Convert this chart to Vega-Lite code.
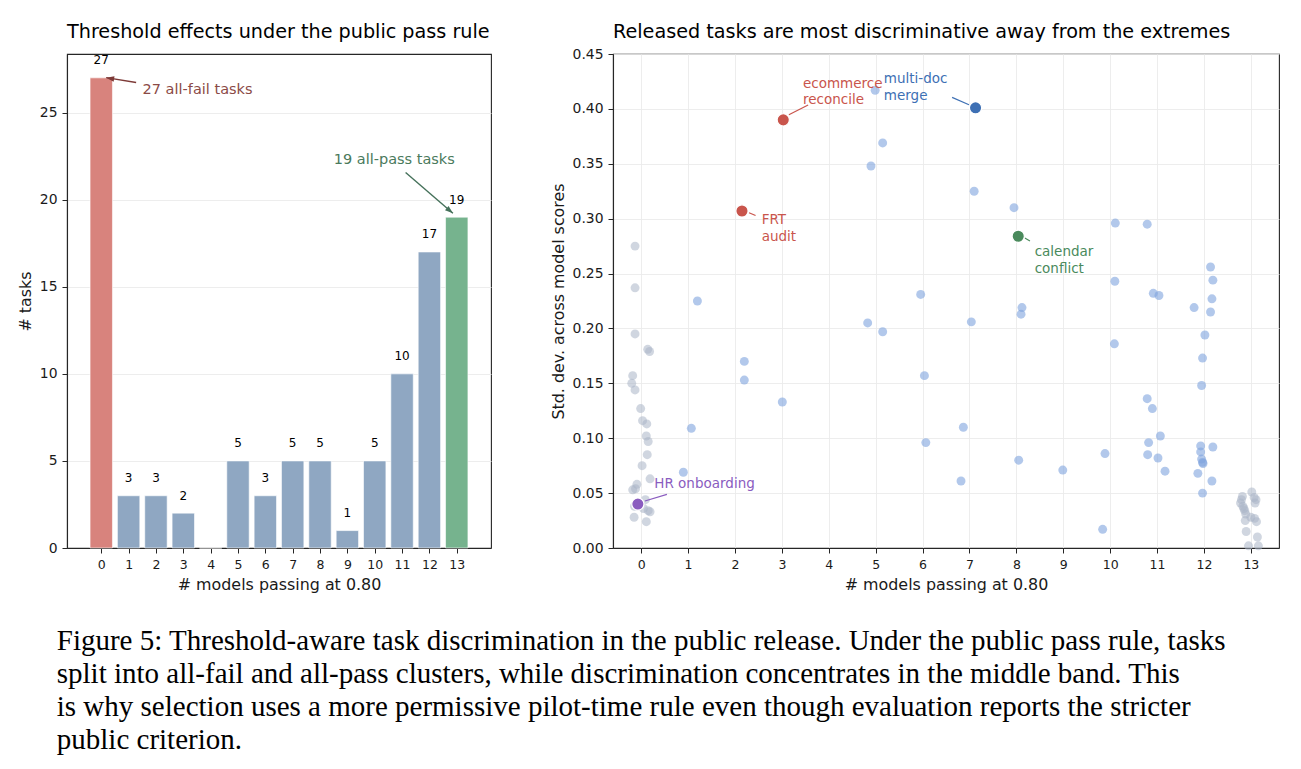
{
  "$schema": "https://vega.github.io/schema/vega-lite/v6.json",
  "background": "white",
  "padding": {"left": 16, "top": 22, "right": 5, "bottom": 5},
  "config": {
    "font": "DejaVu Sans",
    "view": {"stroke": "#262626", "strokeWidth": 1.1},
    "axis": {
      "domainColor": "#262626",
      "domainWidth": 1.1,
      "tickColor": "#262626",
      "tickSize": 5,
      "tickWidth": 1,
      "labelColor": "#1a1a1a",
      "titleColor": "#1a1a1a",
      "labelFont": "DejaVu Sans",
      "titleFont": "DejaVu Sans",
      "titleFontWeight": "normal",
      "titleFontSize": 15.9,
      "labelPadding": 5,
      "titlePadding": 6,
      "labelOverlap": false,
      "gridColor": "#ebebeb",
      "gridWidth": 0.9
    }
  },
  "resolve": {"scale": {"color": "independent"}},
  "datasets": {
    "bars": [
      {"passing": 0, "tasks": 27, "group": "all-fail"},
      {"passing": 1, "tasks": 3, "group": "discriminative"},
      {"passing": 2, "tasks": 3, "group": "discriminative"},
      {"passing": 3, "tasks": 2, "group": "discriminative"},
      {"passing": 4, "tasks": 0, "group": "discriminative"},
      {"passing": 5, "tasks": 5, "group": "discriminative"},
      {"passing": 6, "tasks": 3, "group": "discriminative"},
      {"passing": 7, "tasks": 5, "group": "discriminative"},
      {"passing": 8, "tasks": 5, "group": "discriminative"},
      {"passing": 9, "tasks": 1, "group": "discriminative"},
      {"passing": 10, "tasks": 5, "group": "discriminative"},
      {"passing": 11, "tasks": 10, "group": "discriminative"},
      {"passing": 12, "tasks": 17, "group": "discriminative"},
      {"passing": 13, "tasks": 19, "group": "all-pass"}
    ],
    "callouts": [
      {"kind": "fail", "label": "27 all-fail tasks", "x_from": 1.275, "y_from": 26.73, "x_to": 0.18, "y_to": 27.01, "x_text": 1.51, "y_text": 26.29},
      {"kind": "pass", "label": "19 all-pass tasks", "x_from": 11.13, "y_from": 21.56, "x_to": 12.86, "y_to": 19.22, "x_text": 8.5, "y_text": 22.29}
    ],
    "tasks": [
      {"passing": -0.13, "sd": 0.275, "group": "all-fail"},
      {"passing": -0.13, "sd": 0.237, "group": "all-fail"},
      {"passing": -0.13, "sd": 0.195, "group": "all-fail"},
      {"passing": 0.14, "sd": 0.181, "group": "all-fail"},
      {"passing": 0.18, "sd": 0.179, "group": "all-fail"},
      {"passing": -0.18, "sd": 0.157, "group": "all-fail"},
      {"passing": -0.2, "sd": 0.15, "group": "all-fail"},
      {"passing": -0.13, "sd": 0.144, "group": "all-fail"},
      {"passing": -0.01, "sd": 0.127, "group": "all-fail"},
      {"passing": 0.03, "sd": 0.116, "group": "all-fail"},
      {"passing": 0.12, "sd": 0.113, "group": "all-fail"},
      {"passing": 0.11, "sd": 0.102, "group": "all-fail"},
      {"passing": 0.15, "sd": 0.097, "group": "all-fail"},
      {"passing": 0.13, "sd": 0.085, "group": "all-fail"},
      {"passing": 0.02, "sd": 0.075, "group": "all-fail"},
      {"passing": 0.19, "sd": 0.063, "group": "all-fail"},
      {"passing": -0.09, "sd": 0.058, "group": "all-fail"},
      {"passing": -0.12, "sd": 0.054, "group": "all-fail"},
      {"passing": -0.18, "sd": 0.053, "group": "all-fail"},
      {"passing": 0.09, "sd": 0.044, "group": "all-fail"},
      {"passing": -0.14, "sd": 0.038, "group": "all-fail"},
      {"passing": 0.05, "sd": 0.036, "group": "all-fail"},
      {"passing": 0.15, "sd": 0.034, "group": "all-fail"},
      {"passing": 0.19, "sd": 0.033, "group": "all-fail"},
      {"passing": -0.15, "sd": 0.028, "group": "all-fail"},
      {"passing": 0.11, "sd": 0.024, "group": "all-fail"},
      {"passing": 1.2, "sd": 0.225, "group": "discriminative"},
      {"passing": 1.07, "sd": 0.109, "group": "discriminative"},
      {"passing": 0.9, "sd": 0.069, "group": "discriminative"},
      {"passing": 2.2, "sd": 0.17, "group": "discriminative"},
      {"passing": 2.2, "sd": 0.153, "group": "discriminative"},
      {"passing": 3.01, "sd": 0.133, "group": "discriminative"},
      {"passing": 4.99, "sd": 0.417, "group": "discriminative"},
      {"passing": 5.15, "sd": 0.369, "group": "discriminative"},
      {"passing": 4.9, "sd": 0.348, "group": "discriminative"},
      {"passing": 4.83, "sd": 0.205, "group": "discriminative"},
      {"passing": 5.15, "sd": 0.197, "group": "discriminative"},
      {"passing": 5.96, "sd": 0.231, "group": "discriminative"},
      {"passing": 6.04, "sd": 0.157, "group": "discriminative"},
      {"passing": 6.07, "sd": 0.096, "group": "discriminative"},
      {"passing": 7.1, "sd": 0.325, "group": "discriminative"},
      {"passing": 7.04, "sd": 0.206, "group": "discriminative"},
      {"passing": 6.87, "sd": 0.11, "group": "discriminative"},
      {"passing": 6.82, "sd": 0.061, "group": "discriminative"},
      {"passing": 7.95, "sd": 0.31, "group": "discriminative"},
      {"passing": 8.12, "sd": 0.219, "group": "discriminative"},
      {"passing": 8.1, "sd": 0.213, "group": "discriminative"},
      {"passing": 8.05, "sd": 0.08, "group": "discriminative"},
      {"passing": 8.99, "sd": 0.071, "group": "discriminative"},
      {"passing": 10.11, "sd": 0.296, "group": "discriminative"},
      {"passing": 10.1, "sd": 0.243, "group": "discriminative"},
      {"passing": 10.09, "sd": 0.186, "group": "discriminative"},
      {"passing": 9.89, "sd": 0.086, "group": "discriminative"},
      {"passing": 9.84, "sd": 0.017, "group": "discriminative"},
      {"passing": 10.79, "sd": 0.295, "group": "discriminative"},
      {"passing": 10.92, "sd": 0.232, "group": "discriminative"},
      {"passing": 11.04, "sd": 0.23, "group": "discriminative"},
      {"passing": 10.79, "sd": 0.136, "group": "discriminative"},
      {"passing": 10.9, "sd": 0.127, "group": "discriminative"},
      {"passing": 11.07, "sd": 0.102, "group": "discriminative"},
      {"passing": 10.82, "sd": 0.096, "group": "discriminative"},
      {"passing": 10.8, "sd": 0.085, "group": "discriminative"},
      {"passing": 11.02, "sd": 0.082, "group": "discriminative"},
      {"passing": 11.17, "sd": 0.07, "group": "discriminative"},
      {"passing": 12.14, "sd": 0.256, "group": "discriminative"},
      {"passing": 12.19, "sd": 0.244, "group": "discriminative"},
      {"passing": 12.17, "sd": 0.227, "group": "discriminative"},
      {"passing": 11.79, "sd": 0.219, "group": "discriminative"},
      {"passing": 12.14, "sd": 0.215, "group": "discriminative"},
      {"passing": 12.02, "sd": 0.194, "group": "discriminative"},
      {"passing": 11.97, "sd": 0.173, "group": "discriminative"},
      {"passing": 11.95, "sd": 0.148, "group": "discriminative"},
      {"passing": 11.93, "sd": 0.093, "group": "discriminative"},
      {"passing": 12.19, "sd": 0.092, "group": "discriminative"},
      {"passing": 11.93, "sd": 0.0875, "group": "discriminative"},
      {"passing": 11.95, "sd": 0.081, "group": "discriminative"},
      {"passing": 11.97, "sd": 0.078, "group": "discriminative"},
      {"passing": 11.98, "sd": 0.077, "group": "discriminative"},
      {"passing": 11.87, "sd": 0.068, "group": "discriminative"},
      {"passing": 12.17, "sd": 0.061, "group": "discriminative"},
      {"passing": 11.97, "sd": 0.05, "group": "discriminative"},
      {"passing": 13.02, "sd": 0.051, "group": "all-pass"},
      {"passing": 12.82, "sd": 0.047, "group": "all-pass"},
      {"passing": 13.07, "sd": 0.046, "group": "all-pass"},
      {"passing": 12.8, "sd": 0.044, "group": "all-pass"},
      {"passing": 13.11, "sd": 0.044, "group": "all-pass"},
      {"passing": 12.78, "sd": 0.041, "group": "all-pass"},
      {"passing": 13.09, "sd": 0.041, "group": "all-pass"},
      {"passing": 12.83, "sd": 0.038, "group": "all-pass"},
      {"passing": 12.85, "sd": 0.036, "group": "all-pass"},
      {"passing": 12.87, "sd": 0.034, "group": "all-pass"},
      {"passing": 12.89, "sd": 0.031, "group": "all-pass"},
      {"passing": 13.0, "sd": 0.028, "group": "all-pass"},
      {"passing": 13.08, "sd": 0.027, "group": "all-pass"},
      {"passing": 12.88, "sd": 0.025, "group": "all-pass"},
      {"passing": 13.12, "sd": 0.024, "group": "all-pass"},
      {"passing": 12.9, "sd": 0.015, "group": "all-pass"},
      {"passing": 13.14, "sd": 0.01, "group": "all-pass"},
      {"passing": 12.95, "sd": 0.002, "group": "all-pass"},
      {"passing": 13.16, "sd": 0.002, "group": "all-pass"}
    ],
    "highlights": [
      {"name": "ecommerce reconcile", "label": "ecommerce\nreconcile", "passing": 3.03, "sd": 0.39, "lx0": 3.15, "ly0": 0.3947, "lx1": 3.56, "ly1": 0.4035, "tx": 3.45, "ty": 0.4227},
      {"name": "multi-doc merge", "label": "multi-doc\nmerge", "passing": 7.13, "sd": 0.401, "lx0": 6.99, "ly0": 0.4038, "lx1": 6.63, "ly1": 0.4105, "tx": 5.175, "ty": 0.4272},
      {"name": "FRT audit", "label": "FRT\naudit", "passing": 2.15, "sd": 0.307, "lx0": 2.3, "ly0": 0.3054, "lx1": 2.44, "ly1": 0.3029, "tx": 2.57, "ty": 0.2985},
      {"name": "calendar conflict", "label": "calendar\nconflict", "passing": 8.04, "sd": 0.284, "lx0": 8.18, "ly0": 0.2823, "lx1": 8.29, "ly1": 0.2796, "tx": 8.39, "ty": 0.2696},
      {"name": "HR onboarding", "label": "HR onboarding", "passing": -0.07, "sd": 0.04, "lx0": 0.08, "ly0": 0.0428, "lx1": 0.55, "ly1": 0.0489, "tx": 0.28, "ty": 0.0586}
    ]
  },
  "title": {
    "text": [
      "Figure 5: Threshold-aware task discrimination in the public release. Under the public pass rule, tasks",
      "split into all-fail and all-pass clusters, while discrimination concentrates in the middle band. This",
      "is why selection uses a more permissive pilot-time rule even though evaluation reports the stricter",
      "public criterion."
    ],
    "orient": "bottom",
    "anchor": "start",
    "font": "Liberation Serif",
    "fontSize": 29,
    "fontWeight": "normal",
    "lineHeight": 33,
    "color": "#000000",
    "offset": 34,
    "dx": 40
  },
  "spacing": 57,
  "hconcat": [
    {
      "width": 424,
      "height": 494,
      "title": {"text": "Threshold effects under the public pass rule", "anchor": "start", "frame": "group", "fontSize": 19.2, "fontWeight": "normal", "font": "DejaVu Sans", "color": "#000000", "offset": 12},
      "layer": [
        {
          "data": {"name": "bars"},
          "mark": {"type": "bar", "width": 22.4, "stroke": "white", "strokeWidth": 0.6},
          "encoding": {
            "x": {"field": "passing", "type": "quantitative", "scale": {"domain": [-1.07, 14.07], "nice": false, "zero": false},
                  "axis": {"values": [0, 1, 2, 3, 4, 5, 6, 7, 8, 9, 10, 11, 12, 13], "format": "d", "labelOverlap": false, "title": "# models passing at 0.80", "grid": false, "labelFontSize": 12.5}},
            "y": {"field": "tasks", "type": "quantitative", "scale": {"domain": [0, 28.37], "nice": false},
                  "axis": {"values": [0, 5, 10, 15, 20, 25], "title": "# tasks", "grid": true, "labelFontSize": 13.9}},
            "color": {"field": "group", "type": "nominal", "legend": null,
                      "scale": {"domain": ["all-fail", "discriminative", "all-pass"], "range": ["#d8837d", "#8fa7c2", "#76b38e"]}}
          }
        },
        {
          "data": {"name": "bars"},
          "transform": [{"filter": "datum.tasks > 0"}],
          "mark": {"type": "text", "fontSize": 12, "color": "#000000", "baseline": "middle", "dy": -17.5},
          "encoding": {
            "x": {"field": "passing", "type": "quantitative",
                  "axis": {"values": [0, 1, 2, 3, 4, 5, 6, 7, 8, 9, 10, 11, 12, 13], "format": "d", "labelOverlap": false, "title": "# models passing at 0.80", "grid": false, "labelFontSize": 12.5}},
            "y": {"field": "tasks", "type": "quantitative",
                  "axis": {"values": [0, 5, 10, 15, 20, 25], "title": "# tasks", "grid": true, "labelFontSize": 13.9}},
            "text": {"field": "tasks", "type": "quantitative"}
          }
        },
        {
          "data": {"name": "callouts"},
          "transform": [{"filter": "datum.kind === 'fail'"}],
          "mark": {"type": "rule", "color": "#7d3a37", "strokeWidth": 1.4},
          "encoding": {
            "x": {"field": "x_from", "type": "quantitative",
                  "axis": {"values": [0, 1, 2, 3, 4, 5, 6, 7, 8, 9, 10, 11, 12, 13], "format": "d", "labelOverlap": false, "title": "# models passing at 0.80", "grid": false, "labelFontSize": 12.5}},
            "y": {"field": "y_from", "type": "quantitative",
                  "axis": {"values": [0, 5, 10, 15, 20, 25], "title": "# tasks", "grid": true, "labelFontSize": 13.9}},
            "x2": {"field": "x_to"},
            "y2": {"field": "y_to"}
          }
        },
        {
          "data": {"name": "callouts"},
          "transform": [{"filter": "datum.kind === 'fail'"}],
          "mark": {"type": "point", "shape": "M0,0L-0.35,1L0.35,1Z", "filled": true, "opacity": 1, "size": 256, "angle": 279.3, "color": "#7d3a37"},
          "encoding": {
            "x": {"field": "x_to", "type": "quantitative",
                  "axis": {"values": [0, 1, 2, 3, 4, 5, 6, 7, 8, 9, 10, 11, 12, 13], "format": "d", "labelOverlap": false, "title": "# models passing at 0.80", "grid": false, "labelFontSize": 12.5}},
            "y": {"field": "y_to", "type": "quantitative",
                  "axis": {"values": [0, 5, 10, 15, 20, 25], "title": "# tasks", "grid": true, "labelFontSize": 13.9}}
          }
        },
        {
          "data": {"name": "callouts"},
          "transform": [{"filter": "datum.kind === 'fail'"}],
          "mark": {"type": "text", "align": "left", "baseline": "middle", "fontSize": 14.5, "color": "#8b4a46"},
          "encoding": {
            "x": {"field": "x_text", "type": "quantitative",
                  "axis": {"values": [0, 1, 2, 3, 4, 5, 6, 7, 8, 9, 10, 11, 12, 13], "format": "d", "labelOverlap": false, "title": "# models passing at 0.80", "grid": false, "labelFontSize": 12.5}},
            "y": {"field": "y_text", "type": "quantitative",
                  "axis": {"values": [0, 5, 10, 15, 20, 25], "title": "# tasks", "grid": true, "labelFontSize": 13.9}},
            "text": {"field": "label"}
          }
        },
        {
          "data": {"name": "callouts"},
          "transform": [{"filter": "datum.kind === 'pass'"}],
          "mark": {"type": "rule", "color": "#45715a", "strokeWidth": 1.4},
          "encoding": {
            "x": {"field": "x_from", "type": "quantitative",
                  "axis": {"values": [0, 1, 2, 3, 4, 5, 6, 7, 8, 9, 10, 11, 12, 13], "format": "d", "labelOverlap": false, "title": "# models passing at 0.80", "grid": false, "labelFontSize": 12.5}},
            "y": {"field": "y_from", "type": "quantitative",
                  "axis": {"values": [0, 5, 10, 15, 20, 25], "title": "# tasks", "grid": true, "labelFontSize": 13.9}},
            "x2": {"field": "x_to"},
            "y2": {"field": "y_to"}
          }
        },
        {
          "data": {"name": "callouts"},
          "transform": [{"filter": "datum.kind === 'pass'"}],
          "mark": {"type": "point", "shape": "M0,0L-0.35,1L0.35,1Z", "filled": true, "opacity": 1, "size": 256, "angle": 130, "color": "#45715a"},
          "encoding": {
            "x": {"field": "x_to", "type": "quantitative",
                  "axis": {"values": [0, 1, 2, 3, 4, 5, 6, 7, 8, 9, 10, 11, 12, 13], "format": "d", "labelOverlap": false, "title": "# models passing at 0.80", "grid": false, "labelFontSize": 12.5}},
            "y": {"field": "y_to", "type": "quantitative",
                  "axis": {"values": [0, 5, 10, 15, 20, 25], "title": "# tasks", "grid": true, "labelFontSize": 13.9}}
          }
        },
        {
          "data": {"name": "callouts"},
          "transform": [{"filter": "datum.kind === 'pass'"}],
          "mark": {"type": "text", "align": "left", "baseline": "middle", "fontSize": 14.5, "color": "#4a7a5c"},
          "encoding": {
            "x": {"field": "x_text", "type": "quantitative",
                  "axis": {"values": [0, 1, 2, 3, 4, 5, 6, 7, 8, 9, 10, 11, 12, 13], "format": "d", "labelOverlap": false, "title": "# models passing at 0.80", "grid": false, "labelFontSize": 12.5}},
            "y": {"field": "y_text", "type": "quantitative",
                  "axis": {"values": [0, 5, 10, 15, 20, 25], "title": "# tasks", "grid": true, "labelFontSize": 13.9}},
            "text": {"field": "label"}
          }
        }
      ]
    },
    {
      "width": 666,
      "height": 494,
      "title": {"text": "Released tasks are most discriminative away from the extremes", "anchor": "start", "frame": "group", "fontSize": 19.2, "fontWeight": "normal", "font": "DejaVu Sans", "color": "#000000", "offset": 5},
      "layer": [
        {
          "data": {"name": "tasks"},
          "transform": [{"filter": "datum.group !== 'discriminative'"}],
          "mark": {"type": "circle", "size": 80, "color": "#a9b5c6", "opacity": 0.55},
          "encoding": {
            "x": {"field": "passing", "type": "quantitative", "scale": {"domain": [-0.6, 13.6], "nice": false, "zero": false},
                  "axis": {"values": [0, 1, 2, 3, 4, 5, 6, 7, 8, 9, 10, 11, 12, 13], "format": "d", "labelOverlap": false, "title": "# models passing at 0.80", "grid": true, "labelFontSize": 12.5}},
            "y": {"field": "sd", "type": "quantitative", "scale": {"domain": [0, 0.45], "nice": false},
                  "axis": {"values": [0, 0.05, 0.1, 0.15, 0.2, 0.25, 0.3, 0.35, 0.4, 0.45], "format": ".2f", "title": "Std. dev. across model scores", "grid": true, "labelFontSize": 13.9}}
          }
        },
        {
          "data": {"name": "tasks"},
          "transform": [{"filter": "datum.group === 'discriminative'"}],
          "mark": {"type": "circle", "size": 80, "color": "#7fa3de", "opacity": 0.6},
          "encoding": {
            "x": {"field": "passing", "type": "quantitative",
                  "axis": {"values": [0, 1, 2, 3, 4, 5, 6, 7, 8, 9, 10, 11, 12, 13], "format": "d", "labelOverlap": false, "title": "# models passing at 0.80", "grid": true, "labelFontSize": 12.5}},
            "y": {"field": "sd", "type": "quantitative",
                  "axis": {"values": [0, 0.05, 0.1, 0.15, 0.2, 0.25, 0.3, 0.35, 0.4, 0.45], "format": ".2f", "title": "Std. dev. across model scores", "grid": true, "labelFontSize": 13.9}}
          }
        },
        {
          "data": {"name": "highlights"},
          "mark": {"type": "rule", "strokeWidth": 1.2},
          "encoding": {
            "x": {"field": "lx0", "type": "quantitative",
                  "axis": {"values": [0, 1, 2, 3, 4, 5, 6, 7, 8, 9, 10, 11, 12, 13], "format": "d", "labelOverlap": false, "title": "# models passing at 0.80", "grid": true, "labelFontSize": 12.5}},
            "y": {"field": "ly0", "type": "quantitative",
                  "axis": {"values": [0, 0.05, 0.1, 0.15, 0.2, 0.25, 0.3, 0.35, 0.4, 0.45], "format": ".2f", "title": "Std. dev. across model scores", "grid": true, "labelFontSize": 13.9}},
            "x2": {"field": "lx1"},
            "y2": {"field": "ly1"},
            "color": {"field": "name", "type": "nominal", "legend": null,
                      "scale": {"domain": ["ecommerce reconcile", "multi-doc merge", "FRT audit", "calendar conflict", "HR onboarding"],
                                "range": ["#c9554c", "#3e70b4", "#c9554c", "#4a8a5c", "#8a5cbf"]}}
          }
        },
        {
          "data": {"name": "highlights"},
          "mark": {"type": "circle", "size": 150, "opacity": 1, "stroke": "white", "strokeWidth": 1.2},
          "encoding": {
            "x": {"field": "passing", "type": "quantitative",
                  "axis": {"values": [0, 1, 2, 3, 4, 5, 6, 7, 8, 9, 10, 11, 12, 13], "format": "d", "labelOverlap": false, "title": "# models passing at 0.80", "grid": true, "labelFontSize": 12.5}},
            "y": {"field": "sd", "type": "quantitative",
                  "axis": {"values": [0, 0.05, 0.1, 0.15, 0.2, 0.25, 0.3, 0.35, 0.4, 0.45], "format": ".2f", "title": "Std. dev. across model scores", "grid": true, "labelFontSize": 13.9}},
            "color": {"field": "name", "type": "nominal", "legend": null}
          }
        },
        {
          "data": {"name": "highlights"},
          "mark": {"type": "text", "align": "left", "baseline": "middle", "fontSize": 13.5, "lineBreak": "\n", "lineHeight": 16.5},
          "encoding": {
            "x": {"field": "tx", "type": "quantitative",
                  "axis": {"values": [0, 1, 2, 3, 4, 5, 6, 7, 8, 9, 10, 11, 12, 13], "format": "d", "labelOverlap": false, "title": "# models passing at 0.80", "grid": true, "labelFontSize": 12.5}},
            "y": {"field": "ty", "type": "quantitative",
                  "axis": {"values": [0, 0.05, 0.1, 0.15, 0.2, 0.25, 0.3, 0.35, 0.4, 0.45], "format": ".2f", "title": "Std. dev. across model scores", "grid": true, "labelFontSize": 13.9}},
            "text": {"field": "label"},
            "color": {"field": "name", "type": "nominal", "legend": null}
          }
        }
      ]
    }
  ]
}
